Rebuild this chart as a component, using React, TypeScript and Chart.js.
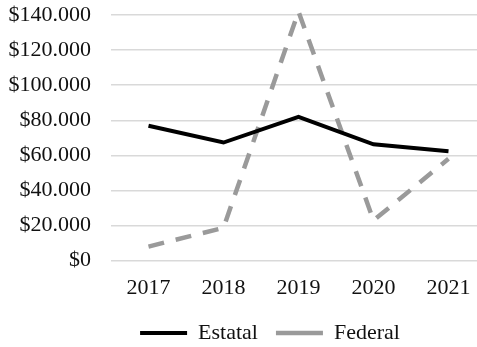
import React, { useEffect, useRef } from "react";
import { Chart, registerables } from "chart.js";

Chart.register(...registerables);

// Amounts per year, in pesos
const years = ["2017", "2018", "2019", "2020", "2021"];
const estatal = [76900, 67300, 81900, 66300, 62300];
const federal = [8000, 18700, 142000, 22900, 58000];
const seriesNames = ["Estatal", "Federal"];

const FONT = "'Liberation Serif', 'Times New Roman', serif";
const FONT_SIZE = 22;

// "$140.000" style: dot as thousands separator
function money(v: number): string {
  const s = Math.round(v).toString();
  return "$" + s.replace(/\B(?=(\d{3})+(?!\d))/g, ".");
}

// Nudge the legend box after layout so it sits centred under the whole figure,
// and let its box run to the bottom edge so the labels are not clipped
const legendNudge = {
  id: "legendNudge",
  afterLayout(chart: any, _args: any, opts: any) {
    const lg = chart.legend;
    if (!lg) return;
    lg.left += opts.dx;
    lg.right += opts.dx;
    lg.top += opts.dy;
    lg.bottom = chart.height;
    lg.height = lg.bottom - lg.top;
  },
};

export default function App() {
  const ref = useRef<HTMLCanvasElement | null>(null);

  useEffect(() => {
    if (!ref.current) return;
    const chart = new Chart(ref.current, {
      type: "line",
      data: {
        labels: years,
        datasets: [
          {
            label: seriesNames[0],
            data: estatal,
            borderColor: "#000000",
            backgroundColor: "#000000",
            borderWidth: 4,
            pointRadius: 0,
            tension: 0,
            clip: false as any,
          },
          {
            label: seriesNames[1],
            data: federal,
            borderColor: "#9a9a9a",
            backgroundColor: "#9a9a9a",
            borderWidth: 4.5,
            borderDash: [16, 12],
            pointRadius: 0,
            tension: 0,
            clip: false as any,
          },
        ],
      },
      plugins: [legendNudge],
      options: {
        animation: false,
        responsive: false,
        maintainAspectRatio: false,
        layout: { padding: { left: 6, right: 58, top: 0, bottom: 0 } },
        plugins: {
          tooltip: { enabled: false },
          legendNudge: { dx: 24, dy: -11 },
          legend: {
            position: "bottom",
            maxHeight: 32,
            labels: {
              usePointStyle: true,
              pointStyle: "line",
              pointStyleWidth: 47,
              padding: 18,
              color: "#111",
              font: { family: FONT, size: FONT_SIZE },
            },
          },
        } as any,
        scales: {
          x: {
            offset: true,
            grid: { display: false, drawTicks: false },
            border: { display: false },
            ticks: {
              color: "#111",
              padding: 14,
              font: { family: FONT, size: FONT_SIZE },
            },
          },
          y: {
            min: 0,
            max: 140000,
            grid: { color: "#d9d9d9", lineWidth: 1.5, drawTicks: false },
            border: { display: false },
            ticks: {
              stepSize: 20000,
              autoSkip: false,
              padding: 20,
              color: "#111",
              font: { family: FONT, size: FONT_SIZE },
              callback: (v: any) => money(Number(v)),
            },
            // fixed axis width and a small top margin for the plot
            afterFit: (scale: any) => {
              scale.width = 105;
              scale.paddingTop = 15;
            },
          },
        },
      },
    });
    return () => chart.destroy();
  }, []);

  return (
    <div style={{ position: "fixed", left: 0, top: 0, width: 544, height: 347, background: "#fff" }}>
      <canvas ref={ref} width={544} height={347} />
    </div>
  );
}
